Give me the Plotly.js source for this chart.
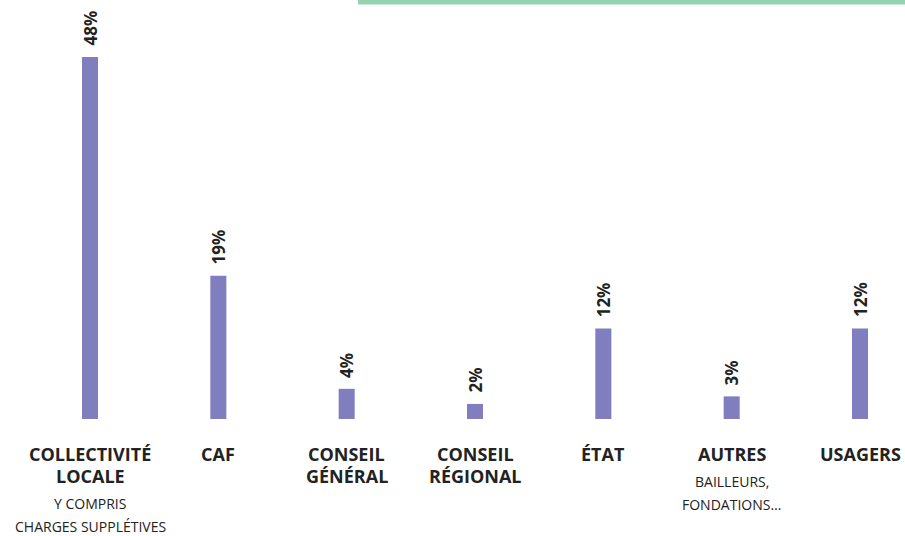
<!DOCTYPE html>
<html>
<head>
<meta charset="utf-8">
<script src="https://cdn.plot.ly/plotly-3.0.1.min.js"></script>
<style>html,body{margin:0;padding:0;background:#fff;}#chart{width:905px;height:536px;}</style>
</head>
<body>
<div id="chart"></div>
<script>
// Data
const categories = ['COLLECTIVITÉ LOCALE', 'CAF', 'CONSEIL GÉNÉRAL', 'CONSEIL RÉGIONAL', 'ÉTAT', 'AUTRES', 'USAGERS'];
const labelLines = [['COLLECTIVITÉ', 'LOCALE'], ['CAF'], ['CONSEIL', 'GÉNÉRAL'], ['CONSEIL', 'RÉGIONAL'], ['ÉTAT'], ['AUTRES'], ['USAGERS']];
const subLines = [['Y COMPRIS', 'CHARGES SUPPLÉTIVES'], [], [], [], [], ['BAILLEURS,', 'FONDATIONS…'], []];
const values = [48, 19, 4, 2, 12, 3, 12];
const valueLabels = values.map(v => v + '%');

const barColor = '#807ebe';
const textColor = '#222222';
const fontFam = '"Open Sans", "Noto Sans", sans-serif';

const annotations = [];
categories.forEach((c, i) => {
  annotations.push({
    x: c, y: values[i], xref: 'x', yref: 'y',
    text: '<b>' + valueLabels[i] + '</b>', showarrow: false,
    textangle: -90, xanchor: 'center', yanchor: 'bottom', yshift: 9,
    font: {family: fontFam, size: 17, color: textColor}
  });
  let off = 35;
  labelLines[i].forEach((ln, k) => {
    off = 35 + 22 * k;
    annotations.push({
      x: c, y: 0, xref: 'x', yref: 'y', text: '<b>' + ln + '</b>', showarrow: false,
      xanchor: 'center', yanchor: 'middle', yshift: -off,
      font: {family: fontFam, size: 18, color: textColor}
    });
  });
  subLines[i].forEach((ln, k) => {
    const o = off + 27 + 23.5 * k;
    annotations.push({
      x: c, y: 0, xref: 'x', yref: 'y', text: ln, showarrow: false,
      xanchor: 'center', yanchor: 'middle', yshift: -o,
      font: {family: fontFam, size: 14, color: textColor}
    });
  });
});

const trace = {
  type: 'bar', x: categories, y: values,
  width: 0.125,
  marker: {color: barColor},
  hoverinfo: 'x+y'
};

const layout = {
  width: 905, height: 536,
  margin: {l: 20, r: 20, t: 57, b: 117},
  paper_bgcolor: '#ffffff', plot_bgcolor: '#ffffff',
  showlegend: false,
  xaxis: {type: 'category', range: [-0.5455, 6.1948], showticklabels: false, showgrid: false, zeroline: false, showline: false, ticks: ''},
  yaxis: {range: [0, 48], showticklabels: false, showgrid: false, zeroline: false, showline: false, ticks: ''},
  annotations: annotations,
  shapes: [{
    type: 'rect', xref: 'paper', yref: 'paper',
    x0: 0.3908, x1: 1.03, y0: 1.145, y1: 1.17,
    fillcolor: '#95d3af', line: {width: 0}, layer: 'above'
  }]
};

Plotly.newPlot('chart', [trace], layout, {displayModeBar: false, staticPlot: true});
</script>
</body>
</html>
